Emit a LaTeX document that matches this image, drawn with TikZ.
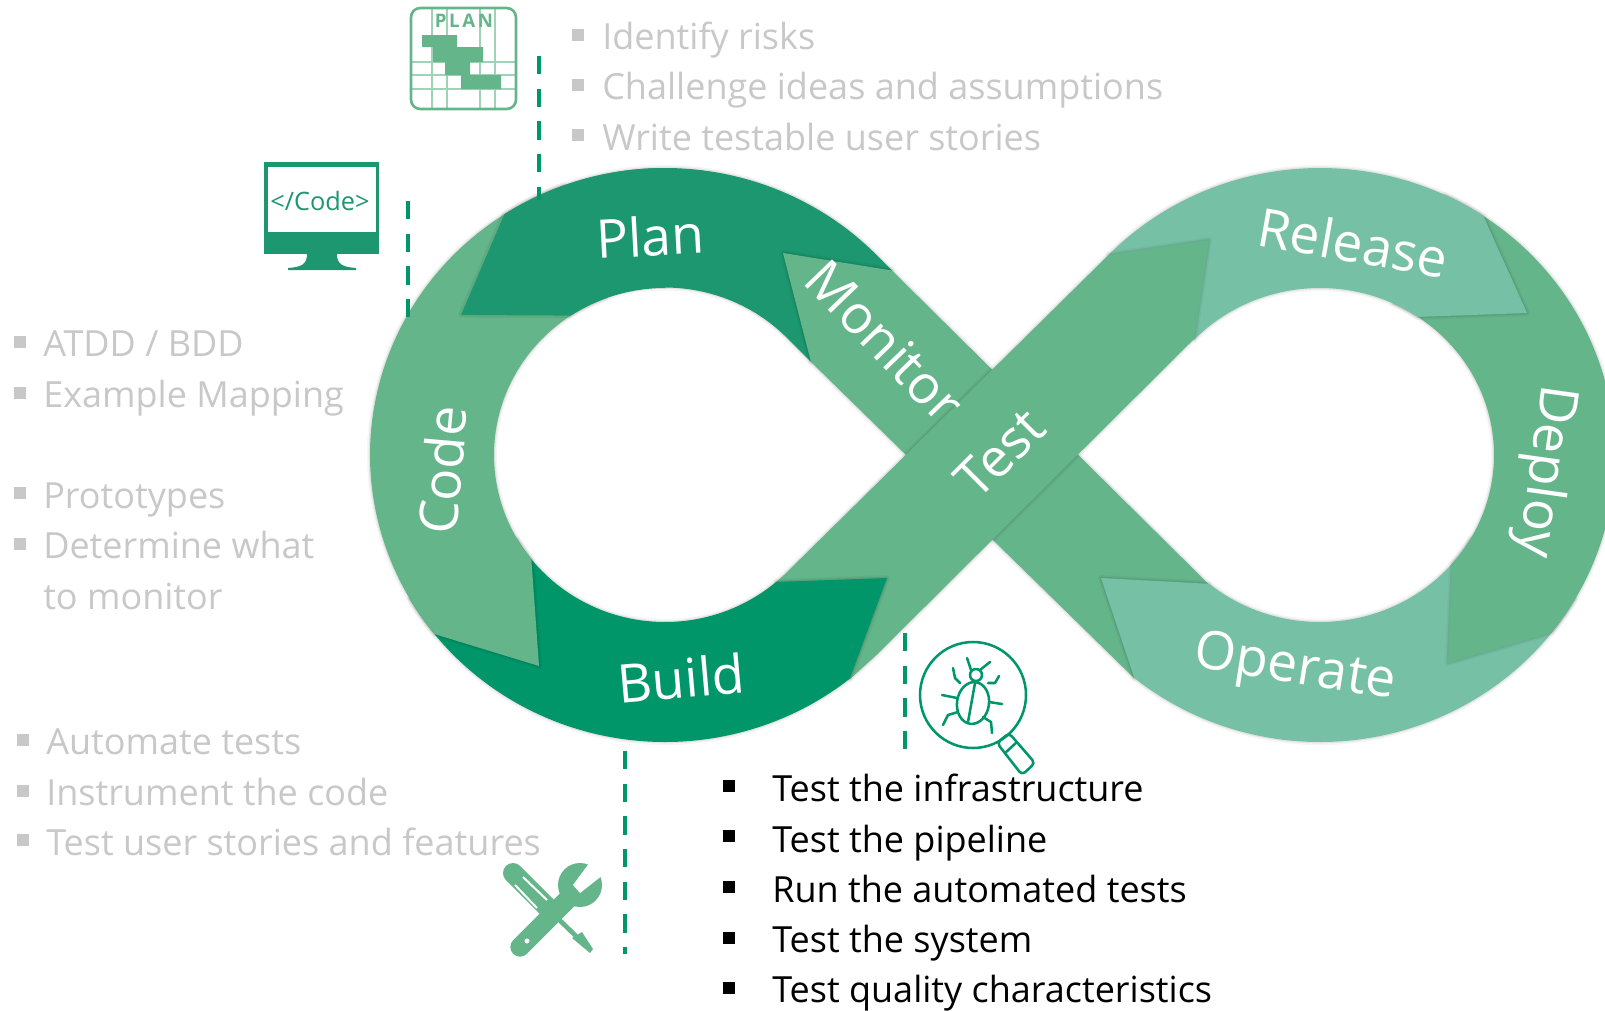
\documentclass[tikz,border=0pt]{standalone}
\usepackage{fontspec}
\setmainfont{Open Sans}
\definecolor{cplan}{RGB}{28,151,111}
\definecolor{cbuild}{RGB}{1,149,106}
\definecolor{cmid}{RGB}{100,181,138}
\definecolor{clight}{RGB}{118,193,166}
\definecolor{cdash}{RGB}{0,150,107}
\definecolor{cgrey}{RGB}{200,200,200}
\definecolor{cgrid}{RGB}{160,210,184}
\tikzset{
  oR/.style={x radius=295,y radius=287},
  iL/.style={x radius=171,y radius=167},
  iR/.style={x radius=174,y radius=167},
  band/.style={preaction={draw=black,draw opacity=.04,line width=4.5pt,line join=round},
               preaction={draw=black,draw opacity=.07,line width=2pt,line join=round}},
  shadowline/.style={draw=black,draw opacity=.05,line width=4pt,line join=round},
  lab/.style={text=white,font=\fontsize{40}{42}\selectfont,inner sep=0pt},
  item/.style={text=cgrey,anchor=base west,inner sep=0pt,font=\fontsize{27}{30}\selectfont},
  itemk/.style={text=black,anchor=base west,inner sep=0pt,font=\fontsize{27}{30}\selectfont},
  blt/.style={fill=cgrey,minimum size=9pt,inner sep=0pt,outer sep=0pt},
  bltk/.style={fill=black,minimum size=9.5pt,inner sep=0pt,outer sep=0pt},
  guide/.style={draw=cdash,line width=3pt,dash pattern=on 13.7pt off 10.8pt},
  thinline/.style={draw=cgrid,line width=.8pt},
  bugline/.style={draw=cdash,line width=1.9pt,line cap=round,line join=round}
}
\begin{document}
\begin{tikzpicture}[x=.75pt,y=.75pt,yscale=-1]
\useasboundingbox (0,0) rectangle (1605,1010);
\clip (0,0) rectangle (1605,1010);
% ---- infinity bands
\path[band,fill=cplan] ([shift={(665,455)}]237:295 and 287) arc[oR,start angle=237,end angle=315.8]
  -- (892,270.5) -- (888,280) -- (820,355) -- (811,362) -- (784,335)
  arc[iL,start angle=314.3,end angle=236.6] -- (461,315) -- cycle;
\path[band,fill=cmid] (783,253) -- (892,270.5) -- (1209,584.5) -- (1134,678) -- (811,362) -- cycle;
\path[band,fill=clight] ([shift={(1320,455)}]129:295 and 287) arc[oR,start angle=129,end angle=30]
  -- ([shift={(1320,455)}]30:174 and 167) arc[iR,start angle=30,end angle=129.5] -- (1101,578) -- cycle;
\path[band,fill=cmid] ([shift={(1320,455)}]-65:295 and 287) arc[oR,start angle=-65,end angle=38.2]
  -- (1448,663) -- ([shift={(1320,455)}]40.6:174 and 167) arc[iR,start angle=40.6,end angle=-65] -- cycle;
\path[band,fill=clight] ([shift={(1320,455)}]224.2:295 and 287) arc[oR,start angle=224.2,end angle=303.6]
  -- (1527,313) -- ([shift={(1320,455)}]304.2:174 and 167) arc[iR,start angle=304.2,end angle=223.8] -- cycle;
\path[band,fill=cmid] (776,582) -- (784,575) -- (1108.5,255) -- (1209,240) -- (1194,339) -- (876.5,655) -- (850,679) -- (800,640) -- cycle;
\path[band,fill=cbuild] ([shift={(665,455)}]150:295 and 287) arc[oR,start angle=150,end angle=51.2]
  -- (887,578) -- ([shift={(665,455)}]49.5:171 and 167) arc[iL,start angle=49.5,end angle=150] -- cycle;
\path[band,fill=cmid] ([shift={(665,455)}]250:295 and 287) arc[oR,start angle=250,end angle=141.4]
  -- (539,666) -- ([shift={(665,455)}]141.4:171 and 167) arc[iL,start angle=141.4,end angle=250] -- cycle;
\draw[shadowline] ([shift={(665,455)}]237:295 and 287) -- (461,315) -- ([shift={(665,455)}]236.6:171 and 167);
\path[fill=cplan] ([shift={(665,455)}]237:295 and 287) arc[oR,start angle=237,end angle=270]
  -- ([shift={(665,455)}]270:171 and 167) arc[iL,start angle=270,end angle=236.6] -- (461,315) -- cycle;
% ---- band labels
\node[lab,rotate=3] (lplan) at (650,236) {Plan};
\node[lab,rotate=-46] (lmonitor) at (885,341) {Monitor};
\node[lab,rotate=45] (ltest) at (1000,453) {Test};
\node[lab,rotate=-10] (lrelease) at (1353,242) {Release};
\node[lab,rotate=-98] (ldeploy) at (1544,471) {Deploy};
\node[lab,rotate=-9] (loperate) at (1295,670) {Operate};
\node[lab,rotate=5] (lbuild) at (681,678) {Build};
\node[lab,rotate=85] (lcode) at (442,470) {Code};
% ---- dashed guides
\coordinate (gp1) at (539,56); \coordinate (gp2) at (539,200);
\coordinate (gc1) at (408,201); \coordinate (gc2) at (408,320);
\coordinate (gb1) at (625,751); \coordinate (gb2) at (625,954);
\coordinate (gt1) at (905,633); \coordinate (gt2) at (905,750);
\draw[guide] (gp1) -- (gp2);
\draw[guide] (gc1) -- (gc2);
\draw[guide] (gb1) -- (gb2);
\draw[guide] (gt1) -- (gt2);
% ---- top list
\foreach \n/\y in {a/35,b/85,c/135}{\node[blt] (bt\n) at (578,\y) {};}
\node[item] (t1) at (602,49) {Identify risks};
\node[item] (t2) at (602,99) {Challenge ideas and assumptions};
\node[item] (t3) at (602,150) {Write testable user stories};
% ---- left list
\foreach \n/\y in {a/342,b/393,c/493,d/544}{\node[blt] (bl\n) at (19.5,\y) {};}
\node[item] (l1) at (43,356) {ATDD / BDD};
\node[item] (l2) at (43,407) {Example Mapping};
\node[item] (l3) at (43,508) {Prototypes};
\node[item] (l4) at (43,558) {Determine what};
\node[item] (l5) at (43,609) {to monitor};
% ---- lower list
\foreach \n/\y in {a/740,b/791,c/840}{\node[blt] (bm\n) at (22.5,\y) {};}
\node[item] (m1) at (46,754) {Automate tests};
\node[item] (m2) at (46,805) {Instrument the code};
\node[item] (m3) at (46,855) {Test user stories and features};
% ---- black list
\foreach \n/\y in {a/786,b/836,c/887,d/938,e/988}{\node[bltk] (bk\n) at (729,\y) {};}
\node[itemk] (k1) at (772,801) {Test the infrastructure};
\node[itemk] (k2) at (772,852) {Test the pipeline};
\node[itemk] (k3) at (772,902) {Run the automated tests};
\node[itemk] (k4) at (772,952) {Test the system};
\node[itemk] (k5) at (772,1002) {Test quality characteristics};
% ---- plan icon
\foreach \x in {432,447,480,495}{\draw[thinline] (\x,8) -- (\x,109);}
\foreach \y in {62,75,89}{\draw[thinline] (411,\y) -- (516,\y);}
\fill[cmid] (422,35) rectangle (457,47) (433,47) rectangle (483,62) (445,62) rectangle (470,75) (461,75) rectangle (501,89);
\draw[draw=cmid,line width=2pt,rounded corners=7pt] (411,8) rectangle (516,109);
\node[text=cmid,inner sep=0pt,font=\fontsize{14}{14}\selectfont\bfseries\addfontfeature{LetterSpace=14}] (iplan) at (464,21) {PLAN};
% ---- monitor icon
\fill[cplan] (264,162) rectangle (379,254);
\fill[white] (268,167) rectangle (376,232);
\fill[cplan] (307,254) -- (337,254) .. controls (337,264) and (342,267) .. (356,268) -- (356,270) -- (288,270) -- (288,268) .. controls (302,267) and (307,264) .. (307,254) -- cycle;
\node[text=cplan,inner sep=0pt,font=\fontsize{19}{19}\selectfont] (icode) at (320,201) {</Code>};
% ---- bug icon
\draw[bugline] (973,695) circle[radius=53];
\draw[bugline,rounded corners=3pt] (1009,733) -- (997,743) -- (1022,775) -- (1035,763) -- cycle;
\draw[bugline] (1017,742) -- (1005,753);
\draw[bugline,rotate around={8:(973,703)}] (973,703) ellipse[x radius=16,y radius=21];
\draw[bugline] (975,683) -- (968,722);
\draw[bugline] (976,675) circle[radius=6];
\draw[bugline] (971,670) -- (967,658);
\draw[bugline] (980,670) -- (990,662);
\draw[bugline] (960,683) -- (955,678) -- (953,668);
\draw[bugline] (988,683) -- (995,683) -- (999,676);
\draw[bugline] (957,698) -- (942,695);
\draw[bugline] (989,702) -- (1002,704);
\draw[bugline] (958,712) -- (948,715) -- (943,725);
\draw[bugline] (983,717) -- (991,722) -- (992,733);
% ---- tools icon
\draw[cmid,line width=15pt,line cap=round] (513,873) -- (547,907);
\draw[white,line width=1.5pt] (523,877) -- (547,900);
\draw[white,line width=1.5pt] (515,885) -- (537,908);
\draw[cmid,line width=3.5pt] (547,908) -- (578,938);
\fill[cmid] (572,938) -- (582,932) -- (593,949) -- (590,953) -- cycle;
\draw[cmid,line width=14.5pt,line cap=round] (520,947) -- (572,895);
\fill[cmid] (580,885) circle[radius=22];
\fill[white] (573,885) -- (580,893) -- (603,875) -- (590,862) -- cycle;
\fill[white] (527,941) circle[radius=2.5];
\end{tikzpicture}
\end{document}
